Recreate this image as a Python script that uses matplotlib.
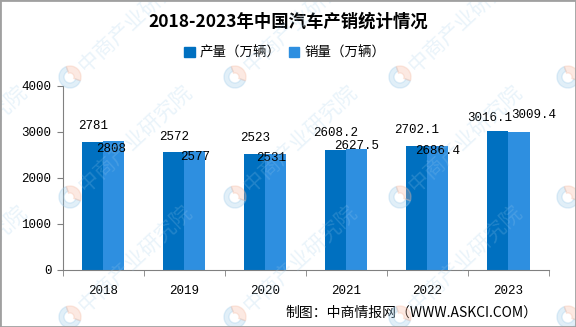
import numpy as np
import matplotlib
matplotlib.use('Agg')
import matplotlib.pyplot as plt
from matplotlib.patches import Patch, Rectangle, Wedge

plt.rcParams['font.family'] = ['Noto Sans CJK SC', 'DejaVu Sans']

years = ['2018', '2019', '2020', '2021', '2022', '2023']
production = [2781, 2572, 2523, 2608.2, 2702.1, 3016.1]
sales = [2808, 2577, 2531, 2627.5, 2686.4, 3009.4]
prod_labels = ['2781', '2572', '2523', '2608.2', '2702.1', '3016.1']
sales_labels = ['2808', '2577', '2531', '2627.5', '2686.4', '3009.4']
series_names = ['产量（万辆）', '销量（万辆）']
title = '2018-2023年中国汽车产销统计情况'
source = '制图：中商情报网（WWW.ASKCI.COM）'

# label offsets in pixels from the bar top centre (the original nudges them around)
prod_offsets = [(0, 16), (0, 15), (0, 16), (0, 17), (0, 16), (-8, 13)]
sales_offsets = [(-3, -8), (0, -6), (-5, -4), (0, 3), (0, -5), (15, 17)]

c_prod = '#0070C0'
c_sales = '#2E8FE0'
grey = '#808080'
num_font = 'Liberation Mono'

fig = plt.figure(figsize=(5.76, 3.27), dpi=100)
ax = fig.add_axes([62.7 / 576, 1 - 270 / 327, (549 - 62.7) / 576, 184 / 327])

x = np.arange(len(years))
w = 0.26
ax.bar(x - w / 2, production, width=w, color=c_prod, zorder=2)
ax.bar(x + w / 2, sales, width=w, color=c_sales, zorder=2)

for i in range(len(years)):
    ax.annotate(prod_labels[i], (x[i] - w / 2, production[i]), xytext=prod_offsets[i],
                textcoords='offset pixels', ha='center', va='center',
                fontsize=9, family=num_font, zorder=3)
    ax.annotate(sales_labels[i], (x[i] + w / 2, sales[i]), xytext=sales_offsets[i],
                textcoords='offset pixels', ha='center', va='center',
                fontsize=9, family=num_font, zorder=3)

ax.set_xlim(-0.5, len(years) - 0.5)
ax.set_ylim(0, 4000)
ax.set_yticks([0, 1000, 2000, 3000, 4000])
ax.set_xticks(x)
ax.set_xticklabels(years)
ax.set_xticks(np.arange(len(years) + 1) - 0.5, minor=True)
ax.tick_params(axis='x', which='major', length=0, pad=11)
ax.tick_params(axis='x', which='minor', length=4, color=grey, direction='out')
ax.tick_params(axis='y', length=4, color=grey, direction='out', pad=4)
for lab in ax.get_xticklabels() + ax.get_yticklabels():
    lab.set_family(num_font)
    lab.set_fontsize(9)
for s in ['top', 'right']:
    ax.spines[s].set_visible(False)
for s in ['left', 'bottom']:
    ax.spines[s].set_color(grey)

fig.text(0.5, 1 - 22 / 327, title, ha='center', va='center', fontsize=12.5, fontweight='bold')

handles = [Patch(color=c_prod), Patch(color=c_sales)]
fig.legend(handles, series_names, loc='center', bbox_to_anchor=(285 / 576, 1 - 53 / 327),
           ncol=2, frameon=False, fontsize=9.7, handlelength=0.75, handleheight=0.75,
           handletextpad=0.4, columnspacing=0.6, borderpad=0)

fig.text(285 / 576, 1 - 313 / 327, source, ha='left', va='center', fontsize=10)

# watermark
H = 327
for wx in [-95, 70, 235, 400, 568]:
    for wy in [77, 197, 317]:
        cx, cy = wx, H - wy
        fig.patches.append(Wedge((cx, cy), 11, 110, 340, width=5, transform=None,
                                 color='#9CCBEA', alpha=0.3, zorder=10))
        fig.patches.append(Wedge((cx, cy), 11, 340, 110, width=7, transform=None,
                                 color='#F6B9A0', alpha=0.3, zorder=10))
        fig.text((cx + 12) / 576, (cy + 8) / H, '中商产业研究院', rotation=43,
                 rotation_mode='anchor', ha='left', va='center', fontsize=15,
                 fontweight='medium', color='#9CCBEA', alpha=0.22, zorder=10)

fig.patches.append(Rectangle((0, 0), 1, 1, transform=fig.transFigure, fill=False,
                             edgecolor='#A0A0A0', linewidth=2, zorder=11))

fig.savefig('out.png', dpi=100)
